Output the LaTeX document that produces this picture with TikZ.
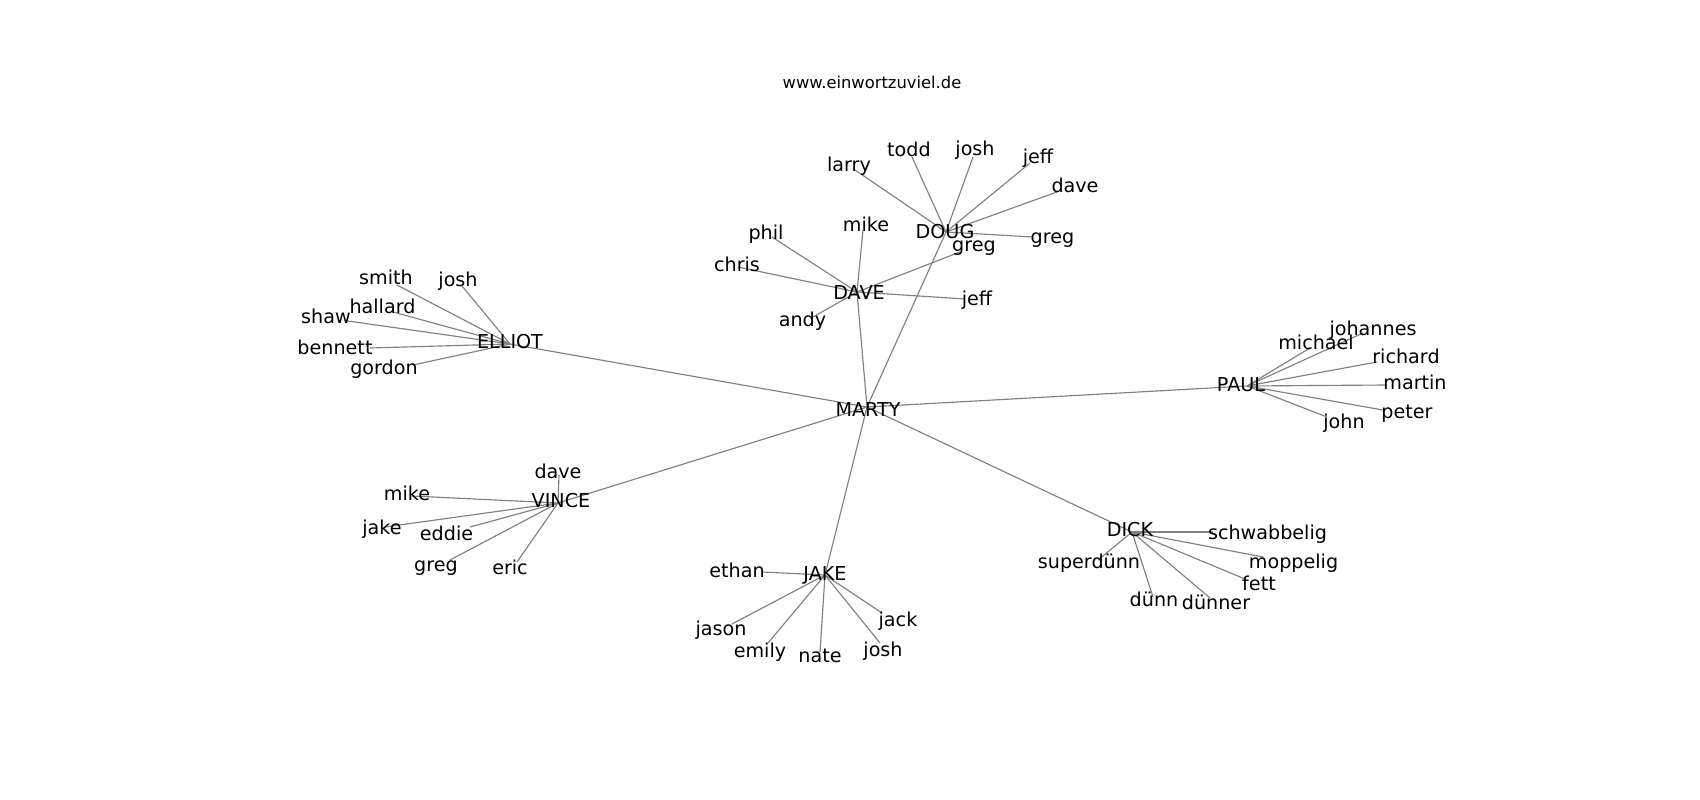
\documentclass[tikz,border=0pt]{standalone}
\usepackage{fontspec}
\setmainfont{DejaVu Sans}

\begin{document}
\begin{tikzpicture}[x=0.02cm, y=-0.02cm, lbl/.style={anchor=base, inner sep=0pt, font=\fontsize{10.9}{12}\selectfont}, edge/.style={draw=gray, line width=0.65pt}]

  \useasboundingbox (0,0) rectangle (1700,800);

  % hubs
  \coordinate (marty) at (867,407);
  \coordinate (elliot) at (510,344);
  \coordinate (dave) at (857,292);
  \coordinate (doug) at (946,232);
  \coordinate (paul) at (1247,386);
  \coordinate (vince) at (558,503);
  \coordinate (jake) at (825,575);
  \coordinate (dick) at (1132,532);

  % leaves
  \coordinate (larry) at (855,170);
  \coordinate (todd) at (912,157);
  \coordinate (doug-josh) at (973,157);
  \coordinate (doug-jeff) at (1030,163);
  \coordinate (doug-dave) at (1057,192);
  \coordinate (doug-greg) at (1033,237);

  \coordinate (phil) at (772,237);
  \coordinate (chris) at (738,267);
  \coordinate (dave-mike) at (863,230);
  \coordinate (dave-greg) at (960,252);
  \coordinate (dave-jeff) at (965,299);
  \coordinate (andy) at (813,317);

  \coordinate (smith) at (397,285);
  \coordinate (elliot-josh) at (462,286);
  \coordinate (hallard) at (393,312);
  \coordinate (shaw) at (348,321);
  \coordinate (bennett) at (370,348);
  \coordinate (gordon) at (413,365);

  \coordinate (johannes) at (1363,333);
  \coordinate (michael) at (1310,348);
  \coordinate (richard) at (1377,362);
  \coordinate (martin) at (1387,385);
  \coordinate (peter) at (1383,410);
  \coordinate (john) at (1327,417);

  \coordinate (schwabbelig) at (1213,532);
  \coordinate (superduenn) at (1098,560);
  \coordinate (moppelig) at (1263,557);
  \coordinate (fett) at (1245,579);
  \coordinate (duenn) at (1153,597);
  \coordinate (duenner) at (1210,598);

  \coordinate (vince-dave) at (559,475);
  \coordinate (vince-mike) at (412,496);
  \coordinate (vince-jake) at (385,527);
  \coordinate (eddie) at (470,527);
  \coordinate (vince-greg) at (450,560);
  \coordinate (eric) at (517,562);

  \coordinate (ethan) at (762,572);
  \coordinate (jason) at (732,624);
  \coordinate (emily) at (768,643);
  \coordinate (nate) at (820,652);
  \coordinate (jake-josh) at (880,643);
  \coordinate (jack) at (882,613);

  % edges
  \foreach \h in {elliot, dave, doug, paul, vince, jake, dick}
    \draw[edge] (marty) -- (\h);
  \foreach \l in {larry, todd, doug-josh, doug-jeff, doug-dave, doug-greg}
    \draw[edge] (doug) -- (\l);
  \foreach \l in {phil, chris, dave-mike, dave-greg, dave-jeff, andy}
    \draw[edge] (dave) -- (\l);
  \foreach \l in {smith, elliot-josh, hallard, shaw, bennett, gordon}
    \draw[edge] (elliot) -- (\l);
  \foreach \l in {johannes, michael, richard, martin, peter, john}
    \draw[edge] (paul) -- (\l);
  \foreach \l in {schwabbelig, superduenn, moppelig, fett, duenn, duenner}
    \draw[edge] (dick) -- (\l);
  \foreach \l in {vince-dave, vince-mike, vince-jake, eddie, vince-greg, eric}
    \draw[edge] (vince) -- (\l);
  \foreach \l in {ethan, jason, emily, nate, jake-josh, jack}
    \draw[edge] (jake) -- (\l);

  % labels
  \node[lbl, font=\fontsize{9.3}{11}\selectfont] (title) at (872,88.3) {www.einwortzuviel.de};

  \node[lbl] (marty-l) at (868,416.7) {MARTY};

  \node[lbl] (doug-l) at (945,238.3) {DOUG};
  \node[lbl] (larry-l) at (849,171.7) {larry};
  \node[lbl] (todd-l) at (909,156.7) {todd};
  \node[lbl] (doug-josh-l) at (975,156) {josh};
  \node[lbl] (doug-jeff-l) at (1038,163.3) {jeff};
  \node[lbl] (doug-dave-l) at (1075,192.7) {dave};
  \node[lbl] (doug-greg-l) at (1052.5,243.3) {greg};

  \node[lbl] (dave-l) at (859,300) {DAVE};
  \node[lbl] (phil-l) at (766,240) {phil};
  \node[lbl] (chris-l) at (737,271.7) {chris};
  \node[lbl] (dave-mike-l) at (866,231.7) {mike};
  \node[lbl] (dave-greg-l) at (974,251.7) {greg};
  \node[lbl] (dave-jeff-l) at (977,306) {jeff};
  \node[lbl] (andy-l) at (802.5,326.7) {andy};

  \node[lbl] (elliot-l) at (510,348.3) {ELLIOT};
  \node[lbl] (smith-l) at (386,284.3) {smith};
  \node[lbl] (elliot-josh-l) at (458,286.7) {josh};
  \node[lbl] (hallard-l) at (382.5,314) {hallard};
  \node[lbl] (shaw-l) at (326,323.3) {shaw};
  \node[lbl] (bennett-l) at (335,354.3) {bennett};
  \node[lbl] (gordon-l) at (384,374.5) {gordon};

  \node[lbl] (paul-l) at (1241,391.7) {PAUL};
  \node[lbl] (johannes-l) at (1373,336) {johannes};
  \node[lbl] (michael-l) at (1316,349.3) {michael};
  \node[lbl] (richard-l) at (1406,363.3) {richard};
  \node[lbl] (martin-l) at (1415,390) {martin};
  \node[lbl] (peter-l) at (1407,418.3) {peter};
  \node[lbl] (john-l) at (1344,428.3) {john};

  \node[lbl] (dick-l) at (1130,536.7) {DICK};
  \node[lbl] (schwabbelig-l) at (1267.5,539.3) {schwabbelig};
  \node[lbl] (superduenn-l) at (1089,568.3) {superdünn};
  \node[lbl] (moppelig-l) at (1293.5,568.3) {moppelig};
  \node[lbl] (fett-l) at (1259,590.7) {fett};
  \node[lbl] (duenn-l) at (1154,606.7) {dünn};
  \node[lbl] (duenner-l) at (1216,609.3) {dünner};

  \node[lbl] (vince-l) at (561,507.7) {VINCE};
  \node[lbl] (vince-dave-l) at (558,478.3) {dave};
  \node[lbl] (vince-mike-l) at (407,500.7) {mike};
  \node[lbl] (vince-jake-l) at (382,534) {jake};
  \node[lbl] (eddie-l) at (446.5,540) {eddie};
  \node[lbl] (vince-greg-l) at (436,571.7) {greg};
  \node[lbl] (eric-l) at (510,574.3) {eric};

  \node[lbl] (jake-l) at (825,580.7) {JAKE};
  \node[lbl] (ethan-l) at (737,577.3) {ethan};
  \node[lbl] (jason-l) at (721,635) {jason};
  \node[lbl] (emily-l) at (760,657.3) {emily};
  \node[lbl] (nate-l) at (820,662.7) {nate};
  \node[lbl] (jake-josh-l) at (883,656.7) {josh};
  \node[lbl] (jack-l) at (898,626.7) {jack};
\end{tikzpicture}
\end{document}
